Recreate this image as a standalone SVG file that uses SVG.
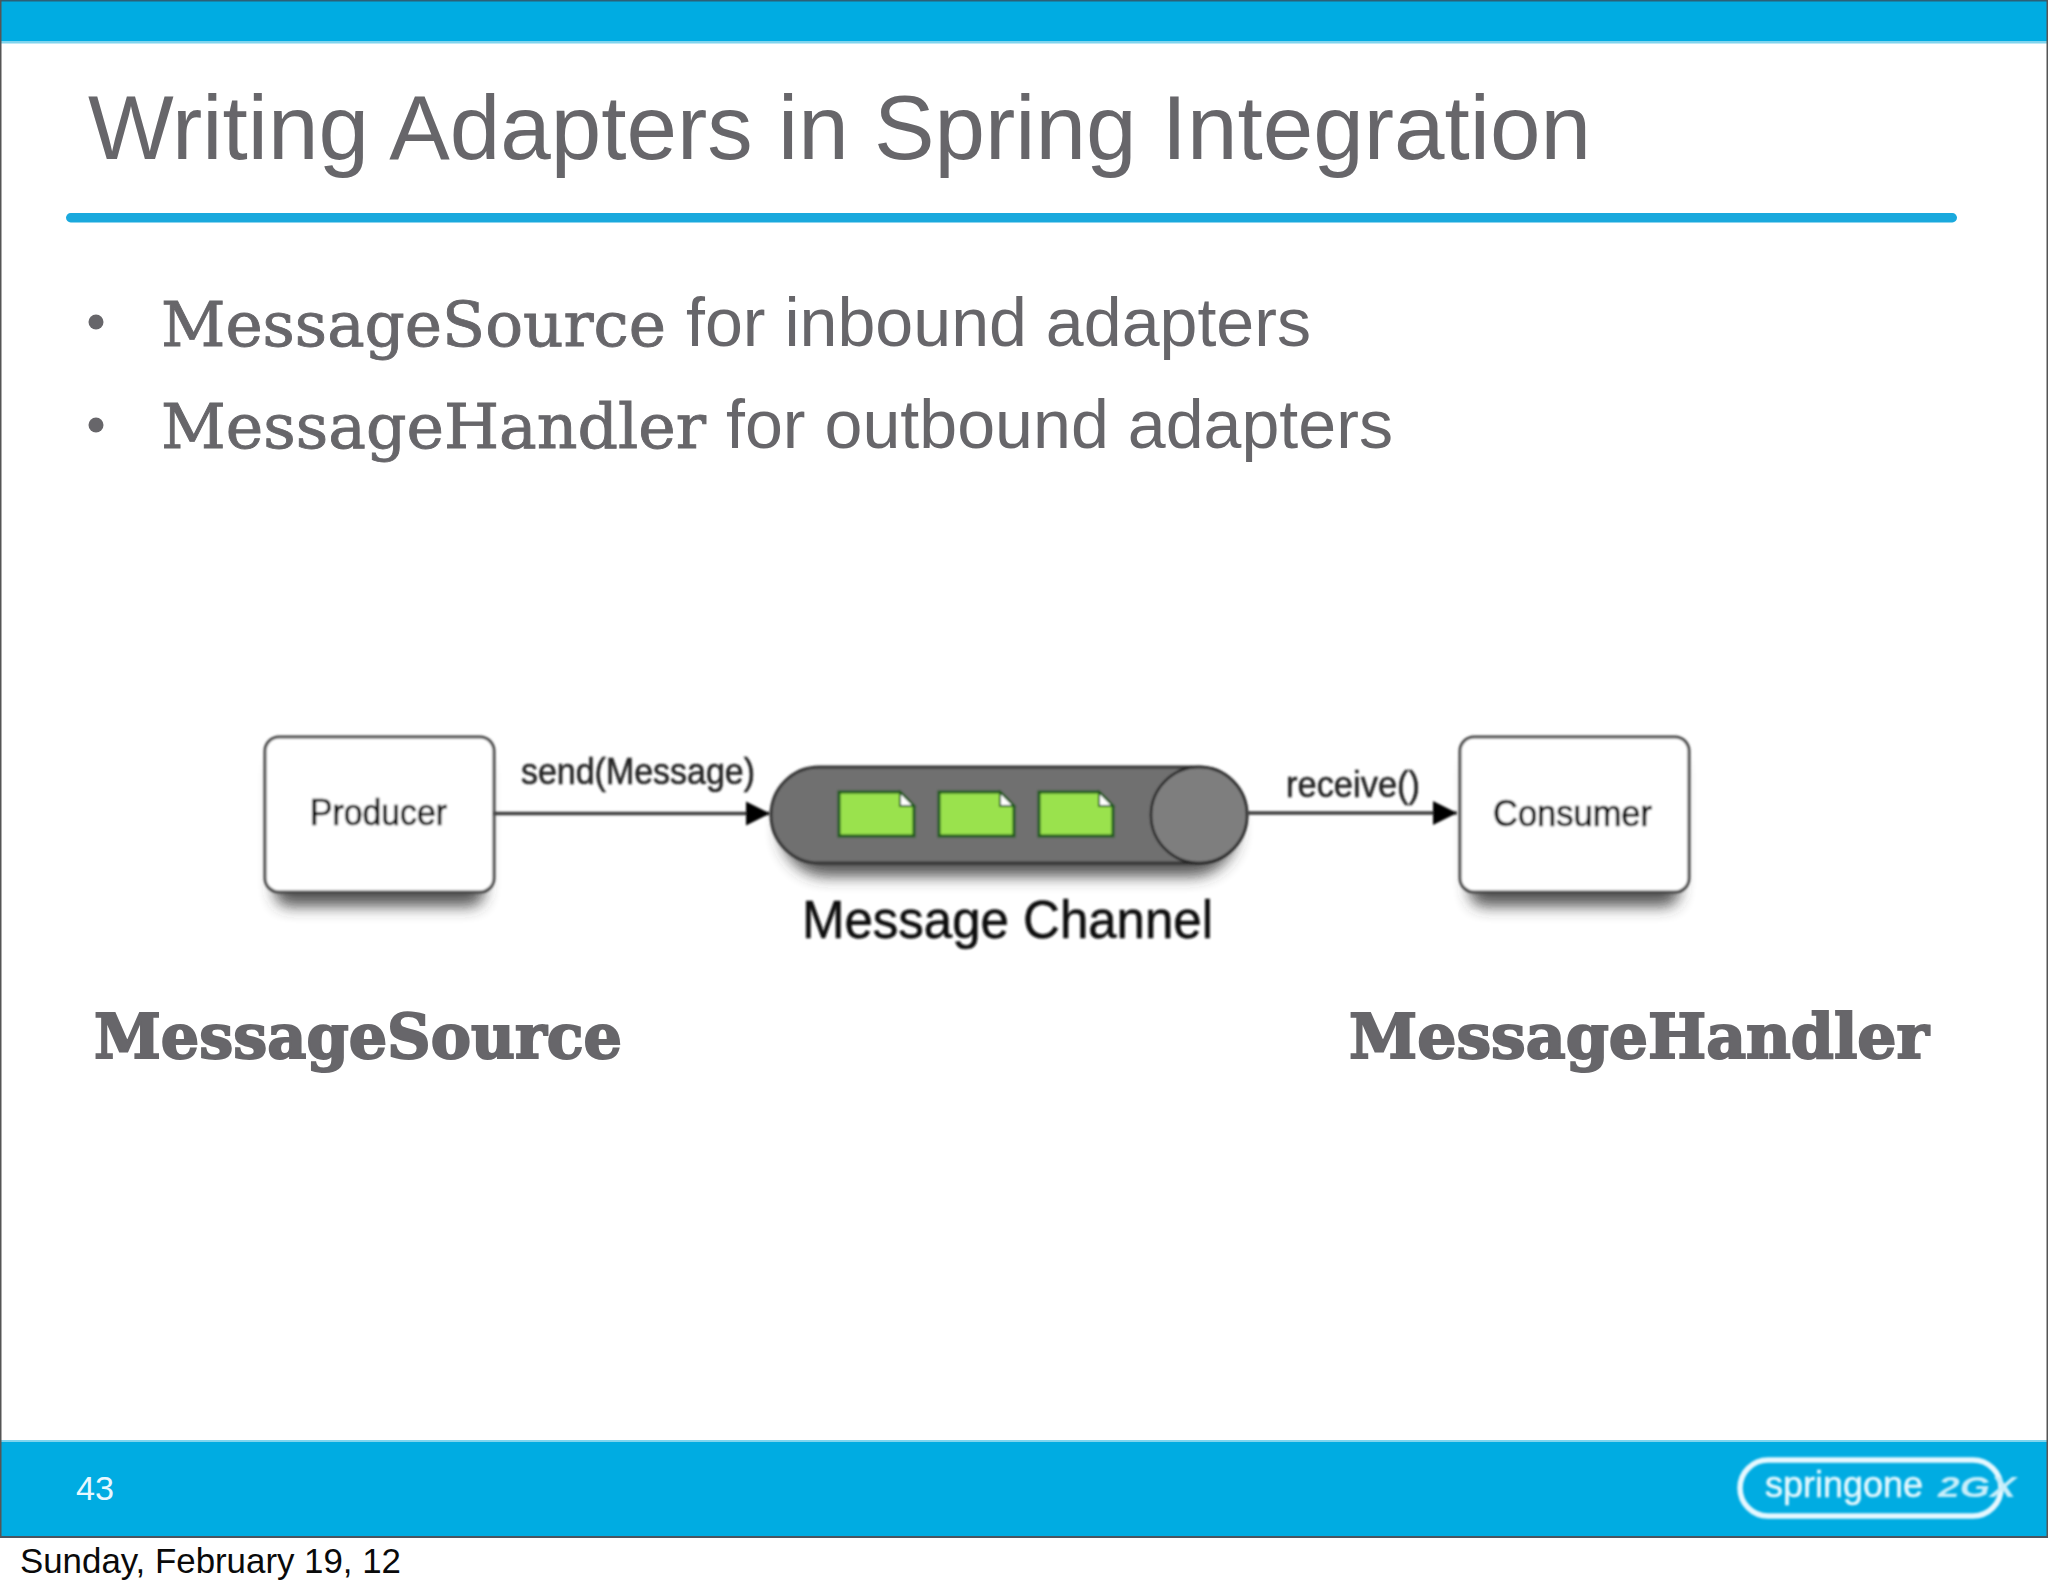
<svg xmlns="http://www.w3.org/2000/svg" width="2048" height="1593" viewBox="0 0 2048 1593">
<style>
.sans{font-family:"Liberation Sans",Arial,sans-serif}
.slab{font-family:"DejaVu Serif",serif}
.grey{fill:#67666a}
.thin{stroke:#67666a;stroke-width:.9}
.heavy{stroke:#67666a;stroke-width:2}
.band{fill:#00ace2}
.box{fill:#fff;stroke:#444;stroke-width:3}
.lbl{fill:#222;stroke:#222;stroke-width:.5}
.name{fill:#000;stroke:#000;stroke-width:.7}
.shade{fill:#333;opacity:.85}
.doc{fill:#9ae24e;stroke:#1d5a1a;stroke-width:3}
.conn{stroke:#3a3a3a;stroke-width:3.500;fill:none;marker-end:url(#ah)}
</style>
<defs>
<marker id="ah" markerUnits="userSpaceOnUse" markerWidth="28" markerHeight="28" refX="26" refY="14" orient="auto"><path d="M2 2L26 14L2 26Z" fill="#000"/></marker>
<filter id="sh" x="-20%" y="-30%" width="140%" height="160%"><feGaussianBlur stdDeviation="8"/></filter>
<filter id="soft" filterUnits="userSpaceOnUse" x="0" y="600" width="2048" height="450"><feGaussianBlur stdDeviation="0.9"/></filter>
<filter id="softlogo" filterUnits="userSpaceOnUse" x="1700" y="1440" width="348" height="96"><feGaussianBlur stdDeviation="0.9"/></filter>
</defs>
<rect width="2048" height="1593" fill="#fff"/>
<g id="slide">
<rect class="band" x="0" y="0" width="2048" height="42"/>
<rect x="0" y="41" width="2048" height="2.500" fill="#7fd4ee"/>
<rect x="0" y="0" width="2048" height="1.500" fill="#2b6077"/>
<rect class="band" x="0" y="1441" width="2048" height="95"/>
<rect x="0" y="1440" width="2048" height="2" fill="#7fd4ee"/>
<rect x="0" y="1536" width="2048" height="2" fill="#4a5560"/>
<rect x="0" y="0" width="1.500" height="1537" fill="#555"/>
<rect x="2046.500" y="0" width="1.500" height="1537" fill="#555"/>
<rect x="66" y="213" width="1891" height="9.500" rx="4.700" fill="#1aa9dd"/>
<text id="title" class="sans grey" x="88" y="159" font-size="91" textLength="1503" lengthAdjust="spacingAndGlyphs">Writing Adapters in Spring Integration</text>
<circle class="grey" cx="96" cy="322" r="7.500"/>
<circle class="grey" cx="96" cy="425" r="7.500"/>
<text class="slab grey thin" x="161" y="346" font-size="62" textLength="505" lengthAdjust="spacingAndGlyphs">MessageSource</text>
<text class="sans grey" x="686" y="346" font-size="68" textLength="625" lengthAdjust="spacingAndGlyphs">for inbound adapters</text>
<text class="slab grey thin" x="161" y="448" font-size="62" textLength="545" lengthAdjust="spacingAndGlyphs">MessageHandler</text>
<text class="sans grey" x="726" y="448" font-size="68" textLength="667" lengthAdjust="spacingAndGlyphs">for outbound adapters</text>
<text class="slab grey heavy" x="94" y="1058" font-size="62" font-weight="bold" textLength="528" lengthAdjust="spacingAndGlyphs">MessageSource</text>
<text class="slab grey heavy" x="1349" y="1058" font-size="62" font-weight="bold" textLength="580" lengthAdjust="spacingAndGlyphs">MessageHandler</text>
<text class="sans" x="76" y="1500" font-size="33" fill="#e8f8ff" textLength="38" lengthAdjust="spacingAndGlyphs">43</text>
<text class="sans" x="20" y="1573" font-size="35" fill="#0a0a0a" textLength="381" lengthAdjust="spacingAndGlyphs">Sunday, February 19, 12</text>
</g>
<g id="logo" filter="url(#softlogo)">
<rect x="1740" y="1460" width="261" height="56" rx="28" fill="none" stroke="#e6f8ff" stroke-width="5.500"/>
<text class="sans" x="1765" y="1497" font-size="36" fill="#e4f8fe" stroke="#e4f8fe" stroke-width=".6" textLength="158" lengthAdjust="spacingAndGlyphs">springone</text>
<text class="sans" x="1938" y="1497" font-size="30" font-weight="bold" font-style="italic" fill="#c8eefa" textLength="78" lengthAdjust="spacingAndGlyphs">2GX</text>
</g>
<g id="producer" filter="url(#soft)">
<rect class="shade" x="275" y="756" width="209" height="150" rx="14" filter="url(#sh)"/>
<rect class="box" x="265" y="737" width="229" height="155" rx="14"/>
<text class="sans name" x="310" y="825" font-size="36" textLength="137" lengthAdjust="spacingAndGlyphs">Producer</text>
</g>
<g id="channel" filter="url(#soft)">
<rect class="shade" x="781" y="784" width="456" height="92" rx="46" filter="url(#sh)"/>
<rect x="771" y="767" width="476" height="96" rx="48" fill="#707070" stroke="#333" stroke-width="3"/>
<ellipse cx="1199" cy="815" rx="48" ry="48" fill="#7e7e7e" stroke="#222" stroke-width="2.500"/>
<path class="doc" d="M839 792H900L914 806V836H839Z"/>
<path class="doc" d="M939 792H1000L1014 806V836H939Z"/>
<path class="doc" d="M1039 792H1099L1113 806V836H1039Z"/>
<path d="M900 792V806H914ZM1000 792V806H1014ZM1099 792V806H1113Z" fill="#fff" stroke="#1d5a1a" stroke-width="2"/>
<text class="sans" x="802" y="938" font-size="54" fill="#111" stroke="#111" stroke-width=".6" textLength="411" lengthAdjust="spacingAndGlyphs">Message Channel</text>
</g>
<g id="consumer" filter="url(#soft)">
<rect class="shade" x="1470" y="756" width="209" height="150" rx="14" filter="url(#sh)"/>
<rect class="box" x="1460" y="737" width="229" height="155" rx="14"/>
<text class="sans name" x="1493" y="826" font-size="36" textLength="159" lengthAdjust="spacingAndGlyphs">Consumer</text>
</g>
<g id="connectors" filter="url(#soft)">
<line class="conn" x1="494" y1="813.500" x2="770" y2="813.500"/>
<line class="conn" x1="1247" y1="813" x2="1457" y2="813"/>
<text class="sans lbl" x="521" y="784" font-size="36" textLength="234" lengthAdjust="spacingAndGlyphs">send(Message)</text>
<text class="sans lbl" x="1286" y="797" font-size="36" textLength="134" lengthAdjust="spacingAndGlyphs">receive()</text>
</g>
</svg>
